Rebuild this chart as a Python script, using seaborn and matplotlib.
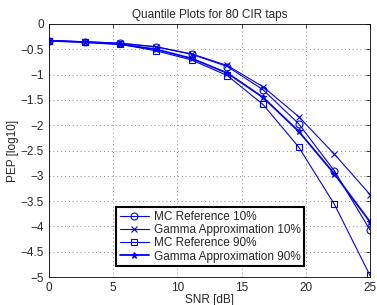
import numpy as np
import pandas as pd
import matplotlib
matplotlib.use('Agg')
import matplotlib.pyplot as plt
import seaborn as sns

# Data
snr = [0, 2.78, 5.56, 8.33, 11.11, 13.89, 16.67, 19.44, 22.22, 25]
mc_10 = [-0.33, -0.35, -0.38, -0.45, -0.60, -0.84, -1.30, -1.97, -2.90, -4.07]
gamma_10 = [-0.33, -0.35, -0.38, -0.45, -0.59, -0.82, -1.24, -1.83, -2.57, -3.37]
mc_90 = [-0.33, -0.36, -0.40, -0.53, -0.71, -1.02, -1.59, -2.43, -3.56, -4.97]
gamma_90 = [-0.33, -0.36, -0.40, -0.50, -0.68, -0.97, -1.45, -2.12, -2.96, -3.91]

labels = ['MC Reference 10%', 'Gamma Approximation 10%',
          'MC Reference 90%', 'Gamma Approximation 90%']
series = [mc_10, gamma_10, mc_90, gamma_90]

sns.set_style('white')
plt.rcParams['font.family'] = ['Liberation Sans', 'DejaVu Sans']
FS = 8.5

fig = plt.figure(figsize=(3.77, 3.05), dpi=100)
ax = fig.add_axes([49 / 377, 1 - 277 / 305, 321 / 377, 253 / 305])

styles = [
    dict(marker='o', markersize=5, markerfacecolor='none', lw=0.8),
    dict(marker='x', markersize=4, lw=0.8),
    dict(marker='s', markersize=4.5, markerfacecolor='none', lw=0.8),
    dict(marker='*', markersize=5, lw=1.3),
]
for vals, lab, st in zip(series, labels, styles):
    sns.lineplot(x=snr, y=vals, ax=ax, color='#0000ff', label=lab,
                 markeredgecolor='#0000ff', markeredgewidth=0.8, **st)

ax.set_xlim(0, 25)
ax.set_ylim(-5, 0)
ax.set_xticks([0, 5, 10, 15, 20, 25])
ax.set_yticks(np.arange(-5, 0.01, 0.5))
ax.set_yticklabels(['\u22125', '\u22124.5', '\u22124', '\u22123.5', '\u22123', '\u22122.5',
                    '\u22122', '\u22121.5', '\u22121', '\u22120.5', '0'])
ax.grid(True, linestyle=(0, (1, 3)), color='#888888', linewidth=0.7)
ax.tick_params(direction='in', top=True, right=True, length=3, width=0.6, labelsize=FS)
for s in ax.spines.values():
    s.set_color('black')
    s.set_linewidth(0.6)

ax.set_xlabel('SNR [dB]', fontsize=FS, labelpad=0)
ax.set_ylabel('PEP [log10]', fontsize=FS, labelpad=1)
ax.set_title('Quantile Plots for 80 CIR taps', fontsize=FS, pad=4)

leg = ax.legend(loc='lower left', bbox_to_anchor=(0.209, 0.043), borderaxespad=0,
                fontsize=FS, handlelength=2.5, handletextpad=0.4, labelspacing=0.1,
                borderpad=0.3, frameon=True, fancybox=False, framealpha=1)
leg.get_frame().set_edgecolor('black')
leg.get_frame().set_linewidth(1.5)

fig.savefig('out.png', dpi=100)
